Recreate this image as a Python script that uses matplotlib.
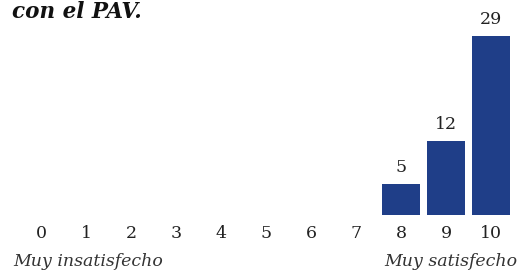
import matplotlib as mpl
mpl.use('Agg')
from matplotlib import pyplot as plt

# Data
scores = list(range(11))
counts = [0, 0, 0, 0, 0, 0, 0, 0, 5, 12, 29]
score_labels = [str(s) for s in scores]
title = 'con el PAV.'
low_label = 'Muy insatisfecho'
high_label = 'Muy satisfecho'

bar_color = '#1f3e88'
W, H = 518, 272

fig = plt.figure(figsize=(W / 100, H / 100), dpi=100)
ax = fig.add_axes([18.5 / W, (H - 215) / H, 495 / W, 33 * 6.17 / H])

ax.bar(scores, counts, width=0.86, color=bar_color)
for s, c in zip(scores, counts):
    if c > 0:
        ax.annotate(str(c), (s, c), xytext=(0, 6), textcoords='offset points',
                    ha='center', va='bottom', fontsize=12.5,
                    family='DejaVu Serif', color='#222222')

ax.set_xlim(-0.5, 10.5)
ax.set_ylim(0, 33)
ax.set_xticks(scores)
ax.set_xticklabels(score_labels, family='DejaVu Serif', fontsize=12.5,
                   color='#222222')
ax.tick_params(axis='x', length=0, pad=7)
ax.set_yticks([])
for spine in ax.spines.values():
    spine.set_visible(False)

fig.text(12 / W, 1 - 18 / H, title, ha='left', va='baseline',
         family='DejaVu Serif', fontsize=15.5, fontweight='bold',
         style='italic', color='#111111')
fig.text(13 / W, 1 - 266 / H, low_label, ha='left', va='baseline',
         family='DejaVu Serif', fontsize=12.5, style='italic', color='#333333')
fig.text(517 / W, 1 - 266 / H, high_label, ha='right', va='baseline',
         family='DejaVu Serif', fontsize=12.5, style='italic', color='#333333')

fig.savefig('out.png', dpi=100)
